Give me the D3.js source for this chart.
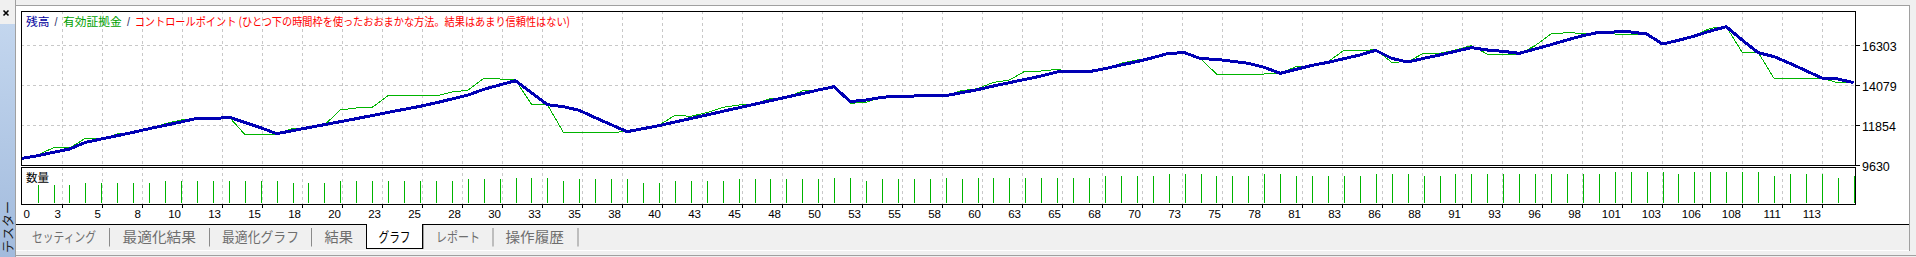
<!DOCTYPE html>
<html>
<head>
<meta charset="utf-8">
<script src="https://cdn.jsdelivr.net/npm/d3@7"></script>
<style>
body { margin: 0; background: #f0f0f0; overflow: hidden; }
svg text { font-family: "Liberation Sans", Arial, sans-serif; }
svg .jp { font-family: "Noto Sans CJK JP", sans-serif; }
</style>
</head>
<body>
<script>
// Balance (残高) after each trade, trade 0 = deposit
var balance = [10000,10149,10334,10520,10890,11076,11261,11446,11650,11836,
    12021,12225,12188,12299,12002,11706,11372,11539,11706,11873,
    12039,12206,12382,12558,12725,12892,13087,13300,13513,13837,
    14078,14319,13652,12985,12874,12670,12262,11873,11483,11650,
    11817,12021,12214,12410,12614,12810,13009,13207,13402,13600,
    13800,13986,13152,13244,13393,13467,13467,13485,13485,13652,
    13819,14023,14208,14394,14579,14801,14838,14820,14987,15191,
    15376,15598,15839,15877,15543,15506,15394,15283,15061,14727,
    14950,15172,15339,15543,15747,16006,15561,15357,15561,15747,
    15951,16154,16025,15951,15839,16080,16321,16581,16822,17007,
    17026,17026,16914,16358,16562,16803,17081,17322,16581,15876,
    15654,15283,14875,14468,14412,14208];

// Equity (有効証拠金) at each trade
var equity = [10000,10186,10594,10575,11113,11076,11354,11446,11650,11928,
    12132,12225,12188,12317,11335,11335,11354,11650,11669,11854,
    12688,12799,12836,13485,13485,13485,13467,13689,13782,14449,
    14412,14356,13003,12985,11446,11446,11446,11446,11483,11650,
    11836,12392,12336,12540,12836,12966,13022,13318,13393,13745,
    13800,13986,13059,13114,13393,13467,13467,13485,13485,13763,
    13874,14227,14356,14857,14857,14950,14783,14801,14987,15283,
    15469,15598,15839,15877,15543,14690,14690,14690,14690,14727,
    15098,15135,15376,16006,15988,16043,15339,15376,15839,15839,
    16025,16266,15802,15802,15802,16266,16914,16989,16952,16952,
    16914,16914,16914,16358,16562,16840,17230,17322,15895,15895,
    14449,14449,14449,14449,14208,14190];

// Lot size (数量) of trades 1..115
var lots = [0.10,0.10,0.10,0.11,0.11,0.11,0.11,0.11,0.12,0.12,
    0.12,0.12,0.12,0.12,0.12,0.12,0.11,0.11,0.11,0.12,
    0.12,0.12,0.12,0.12,0.12,0.12,0.12,0.13,0.13,0.13,
    0.14,0.14,0.14,0.12,0.13,0.13,0.13,0.13,0.11,0.11,
    0.12,0.12,0.12,0.12,0.13,0.13,0.13,0.13,0.13,0.13,
    0.14,0.14,0.12,0.13,0.13,0.13,0.13,0.14,0.13,0.14,
    0.14,0.14,0.14,0.14,0.14,0.14,0.14,0.15,0.15,0.15,
    0.15,0.16,0.16,0.16,0.15,0.15,0.15,0.16,0.16,0.15,
    0.15,0.15,0.15,0.15,0.16,0.16,0.16,0.15,0.15,0.16,
    0.16,0.16,0.16,0.16,0.16,0.16,0.16,0.16,0.16,0.17,
    0.17,0.17,0.17,0.16,0.17,0.17,0.17,0.17,0.17,0.15,
    0.16,0.16,0.16,0.14,0.15];

// Axis labels
var yTickValues = [9630, 11854, 14079, 16303];
var xTickLabels = ["0","3","5","8","10","13","15","18","20","23","25","28","30","33","35","38",
    "40","43","45","48","50","53","55","58","60","63","65","68","70","73","75","78","81","83",
    "86","88","91","93","96","98","101","103","106","108","111","113"];
var xTickStep = 2.511;

var legendParts = ["残高", "/", "有効証拠金", "/", "コントロールポイント (ひとつ下の時間枠を使ったおおまかな方法。結果はあまり信頼性はない)"];
var volumeTitle = "数量";
var tabNames = ["セッティング", "最適化結果", "最適化グラフ", "結果", "グラフ", "レポート", "操作履歴"];
var activeTab = 4;
var sideTitle = "テスター";

// Layout
var W = 1916, H = 257;
var frame = {left: 21, right: 1855, top: 11, mainBottom: 165, volTop: 167.5, volBottom: 204};
var legendX = [26, 54.5, 63, 127, 134.7],
    legendW = [23.5, 3, 58.7, 3, 435.3],
    legendColor = ["#00009c", "#30306a", "#00a000", "#30306a", "#ff0000"];
var tabX = [32, 122.5, 222, 324.5, 378.5, 436, 505.5],
    tabW = [64, 73.5, 77, 28.5, 32, 44, 58.5],
    tabSep = [109, 209, 311, 492.5, 577.5];

var svg = d3.select("body").append("svg")
    .attr("width", W)
    .attr("height", H);

// Window background
svg.append("rect").attr("width", W).attr("height", H).attr("fill", "#f0f0f0");

// Left side strip
var grad = svg.append("defs").append("linearGradient")
    .attr("id", "side").attr("x1", 0).attr("x2", 0).attr("y1", 0).attr("y2", 1);
grad.append("stop").attr("offset", 0).attr("stop-color", "#c3d6ee");
grad.append("stop").attr("offset", 1).attr("stop-color", "#a2bbdd");
svg.append("rect").attr("x", 0).attr("y", 24).attr("width", 15).attr("height", H - 24).attr("fill", "url(#side)");
svg.append("path").attr("d", "M3.5,10.5L8.5,15.5M8.5,10.5L3.5,15.5")
    .attr("stroke", "#000").attr("stroke-width", 1.6);
svg.append("text").attr("class", "jp")
    .attr("transform", "translate(13,253) rotate(-90)")
    .attr("font-size", 12).attr("fill", "#1a1a1a")
    .attr("textLength", 52).attr("lengthAdjust", "spacingAndGlyphs")
    .text(sideTitle);
svg.append("line").attr("x1", 15.5).attr("x2", 15.5).attr("y1", 0).attr("y2", H)
    .attr("stroke", "#a0a0a0");

// White panel
svg.append("rect").attr("x", 16).attr("y", 6).attr("width", 1893).attr("height", 218).attr("fill", "#fff");
svg.append("line").attr("x1", 16).attr("x2", 1910).attr("y1", 5.5).attr("y2", 5.5).attr("stroke", "#a0a0a0");
svg.append("line").attr("x1", 1909.5).attr("x2", 1909.5).attr("y1", 5).attr("y2", 251).attr("stroke", "#a0a0a0");
svg.append("line").attr("x1", 16).attr("x2", 1909).attr("y1", 250.5).attr("y2", 250.5).attr("stroke", "#fff");
svg.append("line").attr("x1", 16).attr("x2", 1916).attr("y1", 255.5).attr("y2", 255.5).attr("stroke", "#a0a0a0");

// Scales
var x = d3.scaleLinear().domain([0, balance.length - 1]).range([21.7, 1853.7]);
var y = d3.scaleLinear().domain([yTickValues[0], yTickValues[3]]).range([frame.mainBottom, 45]);
var yVol = d3.scaleLinear().domain([0, 0.195]).range([203.6, 167.4]);

// Grid
var grid = svg.append("g").attr("stroke", "#c8c8c8").attr("stroke-dasharray", "3,3")
    .attr("shape-rendering", "crispEdges");
xTickLabels.forEach(function(lab, k) {
    if (k == 0) return;
    var gx = Math.round(x(k * xTickStep)) + 0.5;
    grid.append("line").attr("x1", gx).attr("x2", gx).attr("y1", frame.top).attr("y2", frame.volBottom);
});
yTickValues.slice(1).forEach(function(v) {
    var gy = Math.round(y(v)) + 0.5;
    grid.append("line").attr("x1", frame.left).attr("x2", frame.right).attr("y1", gy).attr("y2", gy);
});

// Clip for main lines
svg.append("clipPath").attr("id", "mainClip").append("rect")
    .attr("x", frame.left).attr("y", frame.top)
    .attr("width", frame.right - frame.left).attr("height", frame.mainBottom - frame.top);

var line = d3.line()
    .x(function(d, i) { return x(i); })
    .y(function(d) { return y(d); });

var plot = svg.append("g").attr("clip-path", "url(#mainClip)");
plot.append("path").datum(equity)
    .attr("d", line).attr("fill", "none")
    .attr("stroke", "#00b400").attr("stroke-width", 1)
    .attr("shape-rendering", "crispEdges");
plot.append("path").datum(balance)
    .attr("d", line).attr("fill", "none")
    .attr("stroke", "#0000b4").attr("stroke-width", 3)
    .attr("stroke-linejoin", "round")
    .attr("shape-rendering", "crispEdges");

// Volume bars
svg.append("g").selectAll(".bar")
    .data(lots)
    .enter()
    .append("line")
    .attr("class", "bar")
    .attr("x1", function(d, i) { return Math.round(x(i + 1)) + 0.5; })
    .attr("x2", function(d, i) { return Math.round(x(i + 1)) + 0.5; })
    .attr("y1", 203)
    .attr("y2", function(d) { return yVol(d); })
    .attr("stroke", "#00b400")
    .attr("stroke-width", 1.6)
    .attr("shape-rendering", "crispEdges");

// Frames
var frames = svg.append("g").attr("fill", "none").attr("stroke", "#000").attr("shape-rendering", "crispEdges");
frames.append("rect").attr("x", frame.left + 0.5).attr("y", frame.top + 0.5)
    .attr("width", frame.right - frame.left).attr("height", frame.mainBottom - frame.top);
frames.append("rect").attr("x", frame.left + 0.5).attr("y", frame.volTop)
    .attr("width", frame.right - frame.left).attr("height", frame.volBottom - frame.volTop);

// Y axis
yTickValues.forEach(function(v) {
    var gy = Math.round(y(v)) + 0.5;
    svg.append("line").attr("x1", frame.right).attr("x2", frame.right + 5).attr("y1", gy).attr("y2", gy)
        .attr("stroke", "#000");
    svg.append("text").attr("x", 1862).attr("y", gy + 5.5)
        .attr("font-size", 12.5).attr("fill", "#000")
        .text(v);
});

// X axis
xTickLabels.forEach(function(lab, k) {
    var tx = Math.round(x(k * xTickStep)) + 0.5;
    if (k > 0) {
        svg.append("line").attr("x1", tx).attr("x2", tx).attr("y1", frame.volBottom).attr("y2", frame.volBottom + 4)
            .attr("stroke", "#000");
    }
    svg.append("text")
        .attr("x", k == 0 ? tx + 1 : tx - 1.5)
        .attr("y", 218.3)
        .attr("text-anchor", k == 0 ? "start" : "end")
        .attr("font-size", 11.5).attr("fill", "#000")
        .text(lab);
});

// Legend
legendParts.forEach(function(t, i) {
    svg.append("text").attr("class", i % 2 ? null : "jp")
        .attr("x", legendX[i]).attr("y", 26)
        .attr("font-size", i % 2 ? 12 : 11.5)
        .attr("fill", legendColor[i])
        .attr("textLength", legendW[i]).attr("lengthAdjust", "spacingAndGlyphs")
        .text(t);
});
svg.append("text").attr("class", "jp")
    .attr("x", 26).attr("y", 182)
    .attr("font-size", 11.5).attr("fill", "#000")
    .attr("textLength", 23).attr("lengthAdjust", "spacingAndGlyphs")
    .text(volumeTitle);

// Tabs
svg.append("line").attr("x1", 16).attr("x2", 366).attr("y1", 224.5).attr("y2", 224.5).attr("stroke", "#000");
svg.append("line").attr("x1", 423).attr("x2", 1909).attr("y1", 224.5).attr("y2", 224.5).attr("stroke", "#000");
svg.append("rect").attr("x", 366.5).attr("y", 224).attr("width", 56).attr("height", 24)
    .attr("fill", "#fff").attr("stroke", "none");
svg.append("path").attr("d", "M366.5,224V248.5H422.5V224")
    .attr("fill", "none").attr("stroke", "#000").attr("shape-rendering", "crispEdges");
svg.append("line").attr("x1", 423.5).attr("x2", 423.5).attr("y1", 225).attr("y2", 249)
    .attr("stroke", "#a0a0a0");
tabSep.forEach(function(sx) {
    svg.append("line").attr("x1", sx + 0.5).attr("x2", sx + 0.5).attr("y1", 228).attr("y2", 246.5)
        .attr("stroke", "#8a8a8a");
});
tabNames.forEach(function(t, i) {
    svg.append("text").attr("class", "jp")
        .attr("x", tabX[i]).attr("y", 242)
        .attr("font-size", 13.5)
        .attr("fill", i == activeTab ? "#000" : "#6e6e6e")
        .attr("textLength", tabW[i]).attr("lengthAdjust", "spacingAndGlyphs")
        .text(t);
});
</script>
</body>
</html>
